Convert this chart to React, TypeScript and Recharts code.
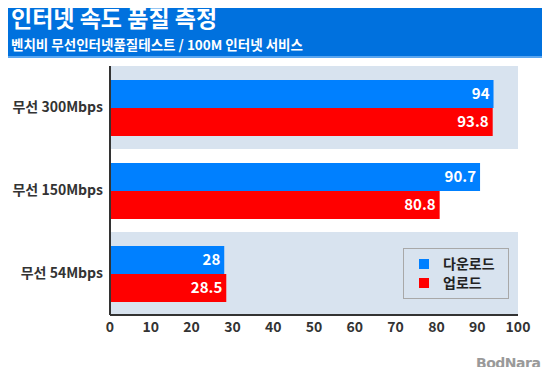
import React from "react";
import {
  BarChart,
  Bar,
  XAxis,
  YAxis,
  LabelList,
  ReferenceArea,
} from "recharts";

const categories = ["무선 300Mbps", "무선 150Mbps", "무선 54Mbps"];
const download = [94, 90.7, 28];
const upload = [93.8, 80.8, 28.5];
const xTicks = [0, 10, 20, 30, 40, 50, 60, 70, 80, 90, 100];
const shadedBands = ["무선 300Mbps", "무선 54Mbps"];

const data = categories.map((name, i) => ({
  name,
  download: download[i],
  upload: upload[i],
}));

const FONT = '"Noto Sans CJK KR", "Noto Sans", sans-serif';
const BAND = "#d8e3ef";

export default function App() {
  return (
    <div
      style={{
        position: "relative",
        width: 550,
        height: 375,
        margin: -8,
        background: "#fff",
        fontFamily: FONT,
        overflow: "hidden",
      }}
    >
      <div
        style={{
          position: "absolute",
          left: 0,
          top: 0,
          width: 550,
          height: 56,
          background: "#0071de",
          borderBottom: "2px solid #5aa6f0",
          color: "#fff",
        }}
      >
        <div
          style={{
            position: "absolute",
            left: 11,
            top: 0,
            fontSize: 23,
            fontWeight: 700,
            lineHeight: "normal",
            whiteSpace: "nowrap",
          }}
        >
          인터넷 속도 품질 측정
        </div>
        <div
          style={{
            position: "absolute",
            left: 11,
            top: 34,
            fontSize: 13.5,
            fontWeight: 700,
            lineHeight: "normal",
            whiteSpace: "nowrap",
          }}
        >
          벤치비 무선인터넷품질테스트 / 100M 인터넷 서비스
        </div>
      </div>

      <div style={{ position: "absolute", left: 0, top: 0 }}>
        <BarChart
          width={550}
          height={375}
          data={data}
          layout="vertical"
          margin={{ top: 66, right: 32, bottom: 35, left: 0 }}
          barCategoryGap={14}
          barGap={0}
        >
          {shadedBands.map((c) => (
            <ReferenceArea
              key={c}
              y1={c}
              y2={c}
              fill={BAND}
              fillOpacity={1}
              stroke="none"
              ifOverflow="visible"
            />
          ))}
          <XAxis
            type="number"
            domain={[0, 100]}
            ticks={xTicks}
            tickLine={false}
            axisLine={{ stroke: "#333", strokeWidth: 2 }}
            tick={{ fill: "#333", fontSize: 14, fontWeight: 700, fontFamily: FONT }}
            tickMargin={1}
            height={25}
            interval={0}
          />
          <YAxis
            type="category"
            dataKey="name"
            width={110}
            tickLine={false}
            axisLine={{ stroke: "#333", strokeWidth: 2 }}
            tick={{ fill: "#333", fontSize: 14, fontWeight: 700, fontFamily: FONT }}
            tickMargin={1}
          />
          <Bar dataKey="download" fill="#0080ff" isAnimationActive={false}>
            <LabelList
              dataKey="download"
              position="insideRight"
              offset={4}
              fill="#fff"
              style={{ fontSize: 15, fontWeight: 700, fontFamily: FONT }}
            />
          </Bar>
          <Bar dataKey="upload" fill="#ff0000" isAnimationActive={false}>
            <LabelList
              dataKey="upload"
              position="insideRight"
              offset={4}
              fill="#fff"
              style={{ fontSize: 15, fontWeight: 700, fontFamily: FONT }}
            />
          </Bar>
        </BarChart>
      </div>

      <div
        style={{
          position: "absolute",
          left: 403,
          top: 248,
          width: 104,
          height: 49,
          background: BAND,
          border: "1px solid #a8a8a8",
          fontSize: 14,
          fontWeight: 700,
          color: "#222",
        }}
      >
        {[
          { label: "다운로드", color: "#0080ff" },
          { label: "업로드", color: "#ff0000" },
        ].map((it, i) => (
          <div
            key={it.label}
            style={{
              position: "absolute",
              left: 15,
              top: 5 + i * 19,
              display: "flex",
              alignItems: "center",
              lineHeight: "19px",
            }}
          >
            <span
              style={{
                display: "inline-block",
                width: 10,
                height: 10,
                background: it.color,
                marginRight: 14,
              }}
            />
            {it.label}
          </div>
        ))}
      </div>

      <div
        style={{
          position: "absolute",
          left: 476,
          top: 353,
          fontSize: 14,
          lineHeight: "20px",
          fontWeight: 700,
          color: "#9a9a9a",
          fontFamily: '"DejaVu Sans", sans-serif',
          letterSpacing: -0.5,
          whiteSpace: "nowrap",
        }}
      >
        BodNara
      </div>
    </div>
  );
}
